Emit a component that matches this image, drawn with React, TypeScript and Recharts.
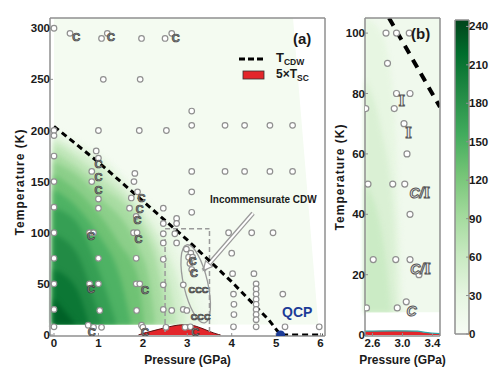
import React from "react";
import { ComposedChart, Area, Line, Scatter, XAxis, YAxis, ReferenceLine } from "recharts";

const pressureTicks = [0, 1, 2, 3, 4, 5, 6];
const tempTicks = [0, 50, 100, 150, 200, 250, 300];
const zoomPTicks = [2.6, 3.0, 3.4];
const zoomTTicks = [0, 20, 40, 60, 80, 100];
const colorTicks = [0, 30, 60, 90, 120, 150, 180, 210, 240];
const colorRange = [[0, 245], [1, 245]];

// T_CDW, dashed
const tcdw = [[0, 204], [1, 169], [2, 131], [3, 93], [4, 52], [4.83, 15], [5.1, 0], [6.05, 0]];
const tcdwZoom = [[2.82, 105], [3.5, 75.5]];

// 5 x Tsc dome
const dome = [[1.9, 0], [2.0, 1.5], [2.16, 3.3], [2.4, 6], [2.7, 9], [2.9, 10], [3.1, 9.5], [3.3, 7], [3.5, 3.5], [3.7, 0.5], [3.75, 0]];
const domeZoom = [[2.5, 1.3], [2.9, 1.4], [3.2, 1.3], [3.3, 0.9], [3.5, 0.5]];

// pale floor of the intensity map, and the empty strip under it
const mapFloor = [[0, 310], [5.38, 310], [5.95, 10]];
const mapFloorZoom = [[2.5, 105], [3.5, 105]];
const mapGap = [[-0.09, 10], [6.1, 10]];
const mapGapZoom = [[2.5, 7.5], [3.5, 7.5]];

// contour levels of the map, each edge read as (P, T) down to the 10 K floor
const mapLevels = [12, 25, 45, 65, 85, 105, 125, 145, 165, 185, 205, 225];
const mapEdges = [
  [[0, 201], [0.5, 190], [1, 178], [1.9, 141], [2.5, 110], [3.0, 85], [3.5, 27], [3.6, 10]],
  [[0, 198], [0.5, 187], [1, 175], [1.9, 135], [2.5, 103], [3.0, 55], [3.33, 10]],
  [[0, 193], [0.5, 181], [1, 168], [1.9, 126], [2.5, 85], [2.87, 40], [3.0, 10]],
  [[0, 188], [0.5, 174], [1, 157], [1.9, 118], [2.5, 65], [2.65, 40], [2.77, 10]],
  [[0, 179], [0.5, 165], [1, 147], [1.9, 109], [2.38, 55], [2.5, 20], [2.53, 10]],
  [[0, 169], [0.5, 157], [1, 136], [1.9, 85], [2.14, 55], [2.28, 10]],
  [[0, 157], [0.5, 142], [1, 119], [1.46, 90], [1.9, 55], [2.03, 10]],
  [[0, 142], [0.5, 126], [1, 98], [1.5, 55], [1.74, 10]],
  [[0, 124], [0.5, 111], [1, 64], [1.41, 10]],
  [[0, 98], [0.5, 81], [1, 21], [1.08, 10]],
  [[0, 64], [0.5, 46], [0.79, 10]],
  [[0, 36], [0.3, 20], [0.5, 10]],
];
const zoomLevels = [25, 40, 55];
const zoomEdges = [
  [[2.5, 105], [2.72, 100], [2.88, 78], [2.95, 40], [3.0, 7.5]],
  [[2.5, 85], [2.7, 70], [2.88, 40], [2.93, 7.5]],
  [[2.5, 50], [2.75, 30], [2.85, 7.5]],
];

// measured points
const mapPoints = [
  [0, 300], [0.36, 295], [1.07, 290], [1.2, 295], [1.97, 290], [2.5, 290], [2.65, 295],
  [1.11, 250], [1.94, 250], [3.1, 219],
  [0, 200], [0, 195], [1.0, 200], [1.92, 200], [2.53, 200], [3.1, 205], [3.85, 205], [4.29, 205], [4.86, 205], [5.37, 205],
  [0, 175], [0.95, 180], [1.0, 173], [0.85, 160], [1.82, 158], [3.1, 160], [3.85, 160], [4.29, 160], [4.86, 160], [5.37, 160],
  [0, 150], [0.85, 150], [1.8, 150], [3.1, 140], [1.88, 140], [1.74, 134], [1.0, 133],
  [0, 125], [1.0, 124], [1.7, 124], [2.46, 124], [3.1, 120], [2.76, 114], [1.85, 116], [2.46, 109], [2.76, 109],
  [0, 100], [0.8, 100], [0.89, 100], [1.79, 100], [1.87, 100], [2.46, 99], [2.72, 99], [3.93, 100], [4.45, 100], [4.93, 100],
  [2.46, 90], [2.76, 90], [4.0, 80],
  [0, 75], [1.0, 75], [1.85, 75], [2.46, 74], [4.02, 60], [4.5, 60],
  [0, 50], [0.8, 50], [1.0, 50], [1.85, 50], [1.93, 50], [2.46, 49], [2.91, 49], [4.55, 50], [4.55, 45], [4.04, 40], [4.55, 40],
  [5.15, 40], [4.55, 35], [4.05, 30], [4.55, 30],
  [0, 25], [1.03, 24], [1.86, 24], [2.46, 25], [2.65, 24], [2.91, 25], [2.99, 24], [4.55, 25], [4.05, 20], [4.55, 20], [4.55, 15],
  [0, 8], [0.77, 9.5], [0.89, 7.5], [1.07, 7.5], [1.97, 9.5], [2.0, 7.5], [2.52, 7.5], [2.95, 7.5], [3.07, 8], [4.04, 8], [4.55, 8], [5.2, 8], [5.97, 8],
  [2.98, 84], [3.08, 80], [3.03, 76], [3.12, 76], [3.06, 70], [3.1, 64],
];
const mapGlyphs = [
  [0.5, 291], [1.28, 291], [2.74, 290], [1.0, 167], [1.0, 154], [1.0, 141], [0.83, 96], [0.83, 45], [0.85, 3],
  [1.97, 134], [1.93, 123], [1.88, 112], [1.9, 94], [2.05, 44], [2.05, 3], [3.18, 3], [3.12, 72], [3.15, 60],
];
const clusterGlyphs = [[3.1, 44], [3.25, 44], [3.4, 44], [3.15, 18], [3.3, 18], [3.45, 18]];
const zoomPoints = [
  [2.78, 100], [2.92, 100], [3.09, 100], [2.8, 90], [2.92, 80], [3.1, 80], [2.89, 75], [2.51, 75], [3.02, 70], [3.06, 60],
  [2.54, 50], [2.87, 50], [3.03, 50], [3.1, 40], [2.61, 25], [2.91, 25], [3.1, 25], [3.22, 20], [2.52, 9], [2.93, 9], [3.05, 11],
];
const zoomGlyphs = [[2.99, 77.5, "I"], [3.08, 67, "I"], [3.23, 47, "C/I"], [3.24, 22, "C/I"], [3.12, 8, "C"]];

const qcp = [[5.1, 0]];
const incEllipse = [[3.19, 50]];
const arrowTail = [4.48, 119];
const arrowHead = [[3.36, 63]];

const GREENS = ["#f7fcf5", "#e5f5e0", "#c7e9c0", "#a1d99b", "#74c476", "#41ab5d", "#238b45", "#006d2c", "#00441b"];
function hex(c: string) {
  return [1, 3, 5].map((i) => parseInt(c.slice(i, i + 2), 16));
}
function greens(v: number) {
  const s = Math.max(0, Math.min(1, v / 250)) * 8;
  const i = Math.min(7, Math.floor(s));
  const f = s - i;
  const a = hex(GREENS[i]);
  const b = hex(GREENS[i + 1]);
  return `rgb(${a.map((x, k) => Math.round(x + (b[k] - x) * f)).join(",")})`;
}
const pts = (arr: number[][]) => arr.map(([p, t]) => ({ p, t }));

const FONT = '"Liberation Sans", Arial, Helvetica, sans-serif';
const AXIS = "#8f8f8f";
const tickStyle = { fontSize: 11.5, fontWeight: 700, fill: "#1a1a1a", fontFamily: FONT };

function frame(xd: number[], yd: number[], xt: number[], yt: number[], fmt?: (v: number) => string) {
  const line = { stroke: AXIS, strokeWidth: 1.5 };
  const tl = { stroke: AXIS, strokeWidth: 1 };
  return [
    <XAxis key="xb" xAxisId={0} type="number" dataKey="p" domain={xd} ticks={xt} allowDataOverflow height={20} interval={0}
      tickSize={-3} tickMargin={6} tick={tickStyle} axisLine={line} tickLine={tl} tickFormatter={fmt} />,
    <XAxis key="xt" xAxisId="top" orientation="top" type="number" domain={xd} ticks={xt} allowDataOverflow height={2}
      interval={0} tickSize={-3} tick={false} axisLine={line} tickLine={tl} />,
    <YAxis key="yl" yAxisId={0} type="number" dataKey="t" domain={yd} ticks={yt} allowDataOverflow width={30} interval={0}
      tickSize={-3} tickMargin={3} tick={tickStyle} axisLine={line} tickLine={tl} />,
    <YAxis key="yr" yAxisId="right" orientation="right" type="number" domain={yd} ticks={yt} allowDataOverflow width={2}
      interval={0} tickSize={-3} tick={false} axisLine={line} tickLine={tl} />,
  ];
}

const circle = (r: number) => (props: any) => (
  <circle cx={props.cx} cy={props.cy} r={r} fill="#fff" stroke="#8f8f8f" strokeWidth={1.2} />
);
const cGlyph = (size: number) => (props: any) => (
  <text x={props.cx} y={props.cy} dy={size / 3} textAnchor="middle" fontFamily={FONT} fontWeight={700} fontSize={size}
    fill="#8d8d8d" stroke="#3a3a3a" strokeWidth={0.7}>C</text>
);
const zoomGlyph = (props: any) => {
  const g = props.payload.g as string;
  return (
    <text x={props.cx} y={props.cy} dy={5} textAnchor="middle" fontWeight={700} fontSize={14} fill="#eeeeee" stroke="#555" strokeWidth={1}>
      {g.split("").map((ch, i) => (
        <tspan key={i} fontFamily={ch === "I" ? '"DejaVu Serif", serif' : FONT} fontStyle={ch === "I" ? "normal" : "italic"}>{ch}</tspan>
      ))}
    </text>
  );
};

function Txt({ x, y, size, children, color = "#1a1a1a", anchor = "left", style = {} }: any) {
  return (
    <div style={{
      position: "absolute", left: x, top: y, fontFamily: FONT, fontWeight: 700, fontSize: size, color, lineHeight: 1,
      whiteSpace: "nowrap", transform: anchor === "center" ? "translate(-50%, -50%)" : "translateY(-50%)", ...style,
    }}>{children}</div>
  );
}

export default function App() {
  return (
    <div style={{ position: "absolute", left: 0, top: 0, width: 500, height: 374, background: "#fff", overflow: "hidden" }}>
      <style>{`.soft { filter: blur(2.5px); }`}</style>
      {/* panel (a) */}
      <div style={{ position: "absolute", left: 0, top: 0 }}>
        <ComposedChart width={340} height={374} margin={{ top: 16, right: 13, bottom: 18, left: 20 }}>
          {frame([-0.09, 6.1], [-1, 310], pressureTicks, tempTicks)}
          <Area data={pts(mapFloor)} dataKey="t" type="linear" baseValue={10} stroke="none" fill={greens(6)} fillOpacity={1}
            isAnimationActive={false} dot={false} activeDot={false} />
          {mapEdges.map((edge, i) => (
            <Area key={i} className="soft" data={pts(edge)} dataKey="t" type="monotone" baseValue={10} stroke="none"
              fill={greens(mapLevels[i] + 3)} fillOpacity={1} isAnimationActive={false} dot={false} activeDot={false} />
          ))}
          <Area data={pts(mapGap)} dataKey="t" type="linear" baseValue={3} stroke="none" fill="#fff" fillOpacity={1}
            isAnimationActive={false} dot={false} activeDot={false} />
          <ReferenceLine segment={[{ x: 2.5, y: 3 }, { x: 2.5, y: 104 }]} stroke="#9a9a9a" strokeWidth={1.5} strokeDasharray="5 3" />
          <ReferenceLine segment={[{ x: 2.5, y: 104 }, { x: 3.5, y: 104 }]} stroke="#9a9a9a" strokeWidth={1.5} strokeDasharray="5 3" />
          <ReferenceLine segment={[{ x: 3.5, y: 3 }, { x: 3.5, y: 104 }]} stroke="#9a9a9a" strokeWidth={1.5} strokeDasharray="5 3" />
          <ReferenceLine segment={[{ x: arrowTail[0], y: arrowTail[1] }, { x: arrowHead[0][0], y: arrowHead[0][1] }]} stroke="#9a9a9a" strokeWidth={4.5} />
          <ReferenceLine segment={[{ x: arrowTail[0], y: arrowTail[1] }, { x: arrowHead[0][0], y: arrowHead[0][1] }]} stroke="#fff" strokeWidth={2} />
          <Scatter data={pts(arrowHead)} dataKey="t" isAnimationActive={false}
            shape={(p: any) => (
              <polygon points="0,0 -9,-4.5 -9,4.5" transform={`translate(${p.cx},${p.cy}) rotate(130)`} fill="#fff" stroke="#9a9a9a" strokeWidth={1.2} />
            )} />
          <Scatter data={pts(incEllipse)} dataKey="t" isAnimationActive={false}
            shape={(p: any) => (
              <ellipse cx={p.cx} cy={p.cy} rx={12} ry={40} transform={`rotate(-13 ${p.cx} ${p.cy})`} fill="none" stroke="#9a9a9a" strokeWidth={1.3} />
            )} />
          <Area data={pts(dome)} dataKey="t" type="monotone" baseValue={0} stroke="#5a1212" strokeWidth={1} fill="#e3262b" fillOpacity={1}
            isAnimationActive={false} dot={false} activeDot={false} />
          <Line data={pts(tcdw)} dataKey="t" type="linear" stroke="#000" strokeWidth={3} strokeDasharray="6 4" dot={false} activeDot={false} isAnimationActive={false} />
          <Scatter data={pts(mapPoints)} dataKey="t" shape={circle(2.8)} isAnimationActive={false} />
          <Scatter data={pts(mapGlyphs)} dataKey="t" shape={cGlyph(11)} isAnimationActive={false} />
          <Scatter data={pts(clusterGlyphs)} dataKey="t" shape={cGlyph(9)} isAnimationActive={false} />
          <Scatter data={pts(qcp)} dataKey="t" isAnimationActive={false}
            shape={(p: any) => <circle cx={p.cx} cy={p.cy} r={4.5} fill="#1c3b97" />} />
        </ComposedChart>
      </div>

      {/* panel (b) */}
      <div style={{ position: "absolute", left: 330, top: 0 }}>
        <ComposedChart width={125} height={374} margin={{ top: 16, right: 13, bottom: 18, left: 5 }}>
          {frame([2.5, 3.5], [-0.3, 105], zoomPTicks, zoomTTicks, (v) => v.toFixed(1))}
          <Area data={pts(mapFloorZoom)} dataKey="t" type="linear" baseValue={7.5} stroke="none" fill={greens(12)} fillOpacity={1}
            isAnimationActive={false} dot={false} activeDot={false} />
          {zoomEdges.map((edge, i) => (
            <Area key={i} className="soft" data={pts(edge)} dataKey="t" type="monotone" baseValue={7.5} stroke="none"
              fill={greens(zoomLevels[i] + 3)} fillOpacity={1} isAnimationActive={false} dot={false} activeDot={false} />
          ))}
          <Area data={pts(mapGapZoom)} dataKey="t" type="linear" baseValue={2} stroke="none" fill="#fff" fillOpacity={1}
            isAnimationActive={false} dot={false} activeDot={false} />
          <Area data={pts(domeZoom)} dataKey="t" type="monotone" baseValue={0} stroke="#2aa6a6" strokeWidth={1.2} fill="#e3262b" fillOpacity={1}
            isAnimationActive={false} dot={false} activeDot={false} />
          <Line data={pts(tcdwZoom)} dataKey="t" type="linear" stroke="#000" strokeWidth={4} strokeDasharray="9 7" dot={false} activeDot={false} isAnimationActive={false} />
          <Scatter data={pts(zoomPoints)} dataKey="t" shape={circle(3)} isAnimationActive={false} />
          <Scatter data={zoomGlyphs.map(([p, t, g]) => ({ p, t, g }))} dataKey="t" shape={zoomGlyph} isAnimationActive={false} />
        </ComposedChart>
      </div>

      {/* colour bar */}
      <div style={{ position: "absolute", left: 440, top: 0 }}>
        <ComposedChart width={60} height={374} margin={{ top: 20, right: 3, bottom: 39, left: 15 }}>
          <defs>
            <linearGradient id="greensBar" x1="0" y1="1" x2="0" y2="0">
              {GREENS.map((c, i) => (
                <stop key={i} offset={Math.min(1, (250 * i) / 8 / 245)} stopColor={c} />
              ))}
            </linearGradient>
          </defs>
          <XAxis xAxisId={0} type="number" dataKey="p" domain={[0, 1]} allowDataOverflow height={1} tick={false} axisLine={false} tickLine={false} />
          <YAxis yAxisId={0} orientation="right" type="number" dataKey="t" domain={[0, 245]} ticks={colorTicks} allowDataOverflow width={28} interval={0}
            tickSize={-3} tickMargin={3} tick={tickStyle} axisLine={false} tickLine={{ stroke: AXIS }} />
          <Area data={pts(colorRange)} dataKey="t" type="linear" baseValue={0} fill="url(#greensBar)" fillOpacity={1}
            stroke="none" isAnimationActive={false} dot={false} activeDot={false} />
          <ReferenceLine segment={[{ x: 0, y: 0 }, { x: 0, y: 245 }]} stroke={AXIS} strokeWidth={1.5} />
          <ReferenceLine segment={[{ x: 1, y: 0 }, { x: 1, y: 245 }]} stroke={AXIS} strokeWidth={1.5} />
          <ReferenceLine segment={[{ x: 0, y: 245 }, { x: 1, y: 245 }]} stroke={AXIS} strokeWidth={1.5} />
          <ReferenceLine segment={[{ x: 0, y: 0 }, { x: 1, y: 0 }]} stroke={AXIS} strokeWidth={1.5} />
        </ComposedChart>
      </div>

      {/* texts */}
      <Txt x={187.5} y={360} size={12} anchor="center">Pressure (GPa)</Txt>
      <Txt x={402.5} y={360} size={12} anchor="center">Pressure (GPa)</Txt>
      <Txt x={20} y={182} size={12} anchor="center" style={{ transform: "translate(-50%, -50%) rotate(-90deg)", letterSpacing: 1 }}>Temperature (K)</Txt>
      <Txt x={340} y={177} size={12} anchor="center" style={{ transform: "translate(-50%, -50%) rotate(-90deg)", letterSpacing: 1 }}>Temperature (K)</Txt>
      <Txt x={293} y={38} size={15}>(a)</Txt>
      <Txt x={411} y={33} size={15}>(b)</Txt>
      <svg style={{ position: "absolute", left: 236, top: 52 }} width={30} height={30}>
        <line x1={3} y1={7} x2={27} y2={7} stroke="#000" strokeWidth={3} strokeDasharray="6 3" />
        <rect x={7} y={19} width={21} height={8} fill="#e3262b" stroke="#333" strokeWidth={0.8} />
      </svg>
      <Txt x={276} y={59} size={13}>T<span style={{ fontSize: 8.5, verticalAlign: -3 }}>CDW</span></Txt>
      <Txt x={276} y={75} size={12}>5×T<span style={{ fontSize: 8.5, verticalAlign: -3 }}>SC</span></Txt>
      <Txt x={210} y={200} size={10}>Incommensurate CDW</Txt>
      <Txt x={282} y={312} size={14} color="#1c3b97">QCP</Txt>
    </div>
  );
}
